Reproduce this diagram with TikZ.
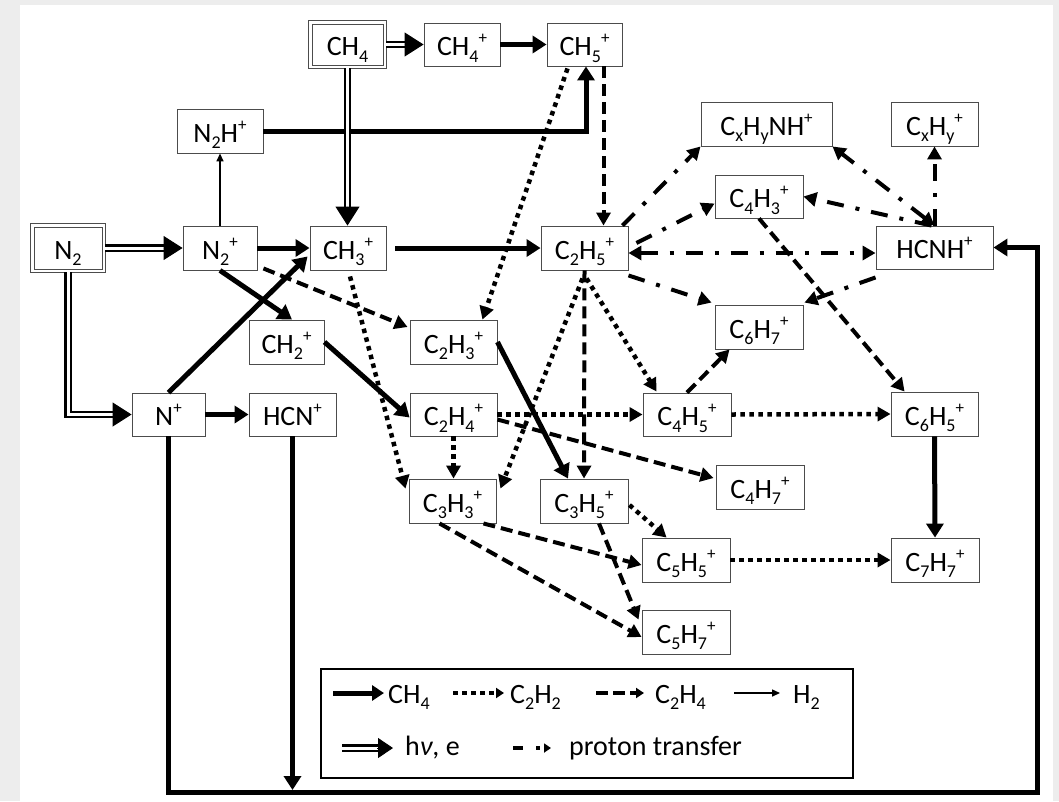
\documentclass[tikz,border=0pt]{standalone}
\usepackage{fontspec}
\setmainfont{Carlito}
\usetikzlibrary{arrows.meta,calc}
\newcommand\sbs[1]{\raisebox{-6.5pt}{\fontsize{18}{18}\selectfont #1}}
\newcommand\sps[1]{\raisebox{12pt}{\fontsize{17}{17}\selectfont #1}}
\tikzset{
  box/.style={draw=black!70, line width=0.9pt, fill=white, inner sep=0pt,
    minimum width=87pt, minimum height=44pt, text height=23pt, text depth=1pt,
    font=\fontsize{28}{32}\selectfont},
  outerframe/.style={draw=black!70, line width=1pt},
  bigtip/.tip={Triangle[length=14pt,width=17pt]},
  midtip/.tip={Triangle[length=13pt,width=14pt]},
  thintip/.tip={Triangle[length=8pt,width=7pt]},
  hvtip/.tip={Triangle[length=19pt,width=24pt]},
  ch4ar/.style={line width=5pt, -bigtip},
  c2h2ar/.style={line width=4.5pt, dash pattern=on 4.5pt off 4.5pt, -midtip},
  c2h4ar/.style={line width=4pt, dash pattern=on 12pt off 6pt, -midtip},
  ptar/.style={line width=4pt, dash pattern=on 17pt off 12pt on 4pt off 12pt, -midtip},
  ptboth/.style={ptar, midtip-midtip},
  h2ar/.style={line width=1.5pt, -thintip},
  hvline/.style={draw=black, double=white, double distance=3pt, line width=2.4pt},
  hvhead/.style={line width=1pt, -hvtip},
  lt/.style={anchor=base west, inner sep=0pt, font=\fontsize{28}{32}\selectfont},
}
\begin{document}
\begin{tikzpicture}[x=1pt,y=-1pt]
\useasboundingbox (0,0) rectangle (1059,801);
\fill[black!7] (0,0) rectangle (1059,801);
\fill[white] (20,5) rectangle (1053,801);

% nodes
\node[box, minimum width=71pt, minimum height=41pt] (ch4) at (347.5,44.5) {CH\sbs{4}};
\draw[outerframe] ($(ch4.south west)+(-3,3)$) rectangle ($(ch4.north east)+(3,-3)$);
\node[box, minimum width=76pt, minimum height=43pt] (ch4p) at (462,44.5) {CH\sbs{4}\sps{+}};
\node[box, minimum width=75pt, minimum height=43pt] (ch5) at (584.5,44.5) {CH\sbs{5}\sps{+}};
\node[box, minimum width=86pt] (n2h) at (220,131) {N\sbs{2}H\sps{+}};
\node[box, minimum width=131pt] (cxhynh) at (766.5,124) {C\sbs{x}H\sbs{y}NH\sps{+}};
\node[box] (cxhy) at (934.5,124) {C\sbs{x}H\sbs{y}\sps{+}};
\node[box, minimum width=88pt, minimum height=43pt] (c4h3) at (759,196.5) {C\sbs{4}H\sbs{3}\sps{+}};
\node[box, minimum width=68pt, minimum height=42pt] (n2) at (68,248) {N\sbs{2}};
\draw[outerframe] ($(n2.south west)+(-3,3)$) rectangle ($(n2.north east)+(3,-3)$);
\node[box, minimum width=74pt] (n2p) at (220,248) {N\sbs{2}\sps{+}};
\node[box, minimum width=76pt] (ch3) at (348,248) {CH\sbs{3}\sps{+}};
\node[box] (c2h5) at (584.5,248) {C\sbs{2}H\sbs{5}\sps{+}};
\node[box, minimum width=117pt, minimum height=43pt] (hcnh) at (934.5,247.5) {HCNH\sps{+}};
\node[box, minimum width=75pt] (ch2) at (286.5,342) {CH\sbs{2}\sps{+}};
\node[box] (c2h3) at (453.5,342) {C\sbs{2}H\sbs{3}\sps{+}};
\node[box, minimum width=88pt] (c6h7) at (759,327) {C\sbs{6}H\sbs{7}\sps{+}};
\node[box, minimum width=73pt, minimum height=43pt] (np) at (168.5,414.5) {N\sps{+}};
\node[box, minimum height=43pt] (hcn) at (292.5,414.5) {HCN\sps{+}};
\node[box, minimum height=43pt] (c2h4) at (453.5,414.5) {C\sbs{2}H\sbs{4}\sps{+}};
\node[box, minimum width=88pt, minimum height=43pt] (c4h5) at (687,414.5) {C\sbs{4}H\sbs{5}\sps{+}};
\node[box] (c6h5) at (934.5,414) {C\sbs{6}H\sbs{5}\sps{+}};
\node[box, minimum width=88pt] (c4h7) at (760,487) {C\sbs{4}H\sbs{7}\sps{+}};
\node[box] (c3h3) at (452.5,501) {C\sbs{3}H\sbs{3}\sps{+}};
\node[box, minimum width=88pt] (c3h5) at (584,501) {C\sbs{3}H\sbs{5}\sps{+}};
\node[box, minimum width=88pt] (c5h5) at (686,560) {C\sbs{5}H\sbs{5}\sps{+}};
\node[box, minimum width=88pt] (c7h7) at (935,560) {C\sbs{7}H\sbs{7}\sps{+}};
\node[box, minimum width=88pt] (c5h7) at (686,632) {C\sbs{5}H\sbs{7}\sps{+}};

% thick solid (CH4)
\draw[ch4ar] (ch4p.east) -- (ch5.west);
\draw[ch4ar] (n2h.east) -| ($(ch5.south)+(1.5,0)$);
\draw[ch4ar] (n2p.east) -- (ch3.west);
\draw[ch4ar, shorten <=9pt] (ch3.east) -- (c2h5.west);
\draw[ch4ar] (n2p.south) -- ($(ch2.north)+(5.5,0)$);
\draw[ch4ar] (np.north) -- ($(ch3.south west)+(-2,-14)$);
\draw[ch4ar] (np.east) -- (hcn.west);
\draw[ch4ar] (ch2.east) -- ($(c2h4.west)+(0,3)$);
\draw[ch4ar] (c2h3.east) -- ($(c3h5.north)+(-16,0)$);
\draw[ch4ar] (c6h5.south) -- (c7h7.north);
\coordinate (lc) at (1037,792);
\draw[ch4ar] (np.south) |- (lc) |- (hcnh.east);
\draw[ch4ar] (hcn.south) -- ($(hcn.south |- lc)+(0,-2)$);

% thin (H2)
\draw[h2ar] (n2p.north) -- (n2h.south);

% dotted (C2H2)
\draw[c2h2ar] ($(ch5.south)+(-17,2)$) -- ($(c2h3.north east)+(-15,0)$);
\draw[c2h2ar] ($(ch3.south)+(2,6)$) -- ($(c3h3.north west)+(-3,10)$);
\draw[c2h2ar] ($(c2h5.south)+(-2,8)$) -- ($(c3h3.north east)+(4,10)$);
\draw[c2h2ar] ($(c2h5.south)+(2,8)$) -- ($(c4h5.north west)+(14,-1)$);
\draw[c2h2ar] (c2h4.east) -- (c4h5.west);
\draw[c2h2ar] (c2h4.south) -- (c2h4.south |- c3h3.north);
\draw[c2h2ar] (c4h5.east) -- (c6h5.west);
\draw[c2h2ar] ($(c3h5.east)+(1,4)$) -- ($(c5h5.north west)+(25,0)$);
\draw[c2h2ar] (c5h5.east) -- (c7h7.west);

% dashed (C2H4)
\draw[c2h4ar] ($(ch5.south)+(19,0)$) -- ($(c2h5.north)+(19,0)$);
\draw[c2h4ar] ($(n2p.south east)+(6,-2)$) -- ($(c2h3.west)+(-2,-15)$);
\draw[c2h4ar] (c2h5.south) -- (c3h5.north);
\draw[c2h4ar] ($(c2h4.east)+(0,5)$) -- ($(c4h7.west)+(-2,-9)$);
\draw[c2h4ar] (c4h3.south) -- ($(c6h5.north west)+(14,0)$);
\draw[c2h4ar] (c4h5.north) -- ($(c6h7.south west)+(15,0)$);
\draw[c2h4ar] ($(c3h3.south east)+(-13,0)$) -- ($(c5h5.west)+(0,5)$);
\draw[c2h4ar] ($(c3h3.south)+(-13,0)$) -- ($(c5h7.west)+(0,5)$);
\draw[c2h4ar] ($(c3h5.south)+(15,0)$) -- ($(c5h7.north west)+(-3,10)$);

% dash-dot (proton transfer)
\draw[ptar] ($(c2h5.north east)+(-6,0)$) -- (cxhynh.south west);
\draw[ptar] ($(c2h5.east)+(8,-5)$) -- ($(c4h3.west)+(0,7)$);
\draw[ptboth] ($(c2h5.east)+(0,5)$) -- ($(hcnh.west)+(0,5.5)$);
\draw[ptar] ($(c2h5.south east)+(0,5)$) -- ($(c6h7.north west)+(-3,-2)$);
\draw[ptar] ($(hcnh.south west)+(0,8)$) -- ($(c6h7.north east)+(1,-2)$);
\draw[ptar] ($(hcnh.north)+(-3,0)$) -- (c4h3.east);
\draw[ptboth] (hcnh.north) -- (cxhynh.south east);
\draw[ptar] (hcnh.north) -- (cxhy.south);

% double (hv, e)
\draw[hvline, shorten <=3pt, shorten >=16pt] (n2.east) -- (n2p.west);
\draw[hvhead] ($(n2p.west)+(-19,0)$) -- (n2p.west);
\draw[hvline, shorten <=3pt, shorten >=16pt] (n2.south) |- (np.west);
\draw[hvhead] ($(np.west)+(-19,0)$) -- (np.west);
\draw[hvline, shorten <=3pt, shorten >=16pt] (ch4.east) -- (ch4p.west);
\draw[hvhead] ($(ch4p.west)+(-19,0)$) -- (ch4p.west);
\draw[hvline, shorten <=3pt, shorten >=16pt] (ch4.south) -- (ch4.south |- ch3.north);
\draw[hvhead] ($(ch4.south |- ch3.north)+(0,-19)$) -- (ch4.south |- ch3.north);

% legend
\node[draw, line width=2.5pt, fill=white, minimum width=532pt, minimum height=109pt, inner sep=0pt] (lg) at (587,723.5) {};
\coordinate (a1) at (333,693); \coordinate (b1) at (384,693);
\draw[line width=5pt, -{Triangle[length=12pt,width=15pt]}] (a1) -- (b1);
\node[lt] (t1) at (388,703) {CH\sbs{4}};
\coordinate (a2) at (453,693); \coordinate (b2) at (504,693);
\draw[line width=4.5pt, dash pattern=on 4.5pt off 4.5pt, -{Triangle[length=8pt,width=10pt]}] (a2) -- (b2);
\node[lt] (t2) at (510,703) {C\sbs{2}H\sbs{2}};
\coordinate (a3) at (596,693); \coordinate (b3) at (644,693);
\draw[line width=4pt, dash pattern=on 12pt off 5pt, -{Triangle[length=8pt,width=10pt]}] (a3) -- (b3);
\node[lt] (t3) at (655,703) {C\sbs{2}H\sbs{4}};
\coordinate (a4) at (734,693); \coordinate (b4) at (780,693);
\draw[line width=1.5pt, -{Triangle[length=8pt,width=7pt]}] (a4) -- (b4);
\node[lt] (t4) at (793,703) {H\sbs{2}};
\coordinate (a5) at (342,748); \coordinate (b5) at (393,748);
\draw[hvline, shorten >=13pt] (a5) -- (b5);
\draw[line width=1pt, -{Triangle[length=15pt,width=20pt]}] ($(b5)+(-16,0)$) -- (b5);
\node[lt] (t5) at (405,755) {h\textit{ν}, e};
\coordinate (a6) at (513,748); \coordinate (b6) at (551,748);
\draw[line width=4pt, dash pattern=on 10pt off 13pt on 4pt off 20pt, -{Triangle[length=7pt,width=9pt]}] (a6) -- (b6);
\node[lt] (t6) at (569,755) {proton transfer};
\end{tikzpicture}
\end{document}
